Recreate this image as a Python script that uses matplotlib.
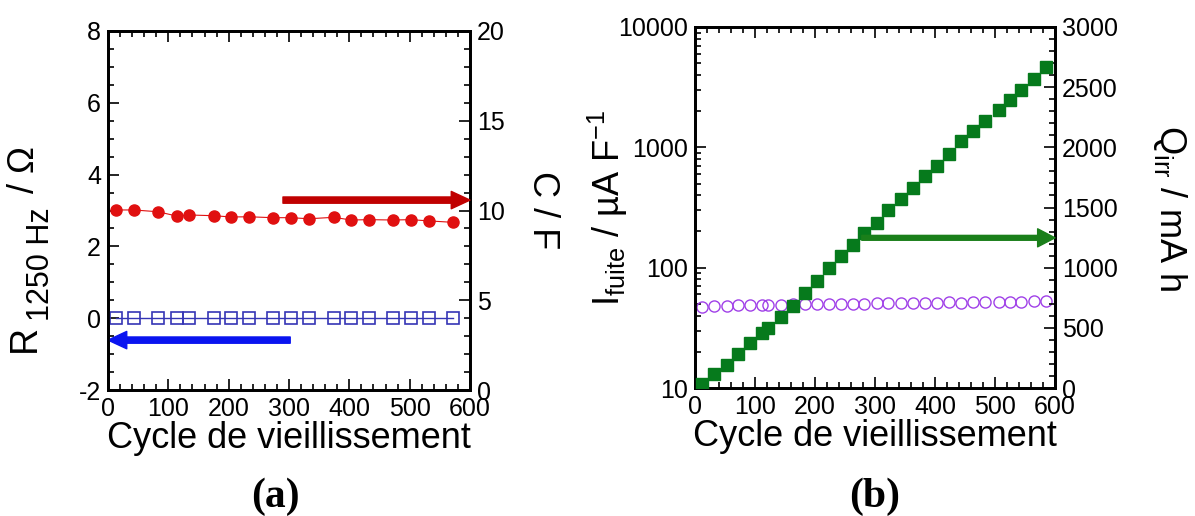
import matplotlib
matplotlib.use('Agg')
from matplotlib import pyplot as plt
from matplotlib import ticker

plt.rcParams['font.family'] = ['Liberation Sans', 'DejaVu Sans']
plt.rcParams['mathtext.fontset'] = 'custom'
plt.rcParams['mathtext.rm'] = 'Liberation Sans'
plt.rcParams['mathtext.it'] = 'Liberation Sans'
plt.rcParams['axes.unicode_minus'] = False

# (a) resistance et capacite
cycles_a = [13, 43, 83, 114, 135, 175, 204, 234, 273, 303, 333, 374, 403, 433, 472, 502, 532, 572]
r_1250 = [0.01] * 18
capa = [10.03, 10.03, 9.93, 9.69, 9.75, 9.71, 9.64, 9.65, 9.60, 9.60,
        9.54, 9.62, 9.47, 9.49, 9.47, 9.49, 9.42, 9.34]

# (b) courant de fuite et charge irreversible
cycles_b = [11, 32, 53, 72, 92, 111, 122, 143, 164, 183, 203, 223, 243, 263, 282,
            303, 322, 343, 363, 383, 403, 423, 443, 464, 483, 506, 525, 544, 565, 585]
i_fuite = [47.5, 48, 48, 48.5, 48.5, 48.5, 49, 49, 49.5, 49.5, 50, 50, 50, 50, 50,
           50.5, 50.5, 50.5, 51, 50.5, 51, 51.5, 51, 51.5, 51.5, 52, 52, 52, 52.5, 52.5]
q_irr = [33, 114, 191, 280, 372, 460, 497, 593, 685, 788, 890, 996, 1098, 1190, 1287,
         1375, 1481, 1572, 1666, 1758, 1849, 1944, 2049, 2138, 2221, 2307, 2396, 2479, 2568, 2668]

TICK = 18
LAB = 26
W, H = 1195, 516


def style_ax(ax, right=False):
    for s in ax.spines.values():
        s.set_linewidth(2.0)
    ax.tick_params(which='both', direction='in', labelsize=TICK, width=1.2, pad=5,
                   top=not right, bottom=not right)
    ax.tick_params(which='major', length=8)
    ax.tick_params(which='minor', length=4.5)


def px_text(x, y, s, size):
    # texte vertical place en pixels (origine en haut a gauche)
    fig.text(x / W, 1 - y / H, s, fontsize=size, rotation=90, ha='center', va='center')


fig = plt.figure(figsize=(11.95, 5.16), dpi=100)
ax1 = fig.add_axes([108 / W, 1 - 390 / H, 362 / W, 359 / H])
ax1b = ax1.twinx()

ax1.plot(cycles_a, r_1250, 's', mfc='none', mec='#3535b5', ms=8.5, mew=1.2,
         ls='-', color='#3535b5', lw=1.0, zorder=3)
ax1b.plot(cycles_a, capa, 'o', color='#e01010', ms=8, lw=0.8, ls='-', zorder=3)

ax1.set_xlim(0, 600)
ax1.set_ylim(-2, 8)
ax1b.set_ylim(0, 20)
ax1.xaxis.set_major_locator(ticker.MultipleLocator(100))
ax1.xaxis.set_minor_locator(ticker.MultipleLocator(20))
ax1.yaxis.set_major_locator(ticker.MultipleLocator(2))
ax1.yaxis.set_minor_locator(ticker.MultipleLocator(0.5))
ax1b.yaxis.set_major_locator(ticker.MultipleLocator(5))
ax1b.yaxis.set_minor_locator(ticker.MultipleLocator(1))
style_ax(ax1)
style_ax(ax1b, right=True)

ax1b.annotate('', xy=(600, 10.58), xytext=(290, 10.58),
              arrowprops=dict(arrowstyle='simple,head_length=1.35,head_width=1.25,tail_width=0.45',
                              color='#c00000', shrinkA=0, shrinkB=0, mutation_scale=10))
ax1.annotate('', xy=(0, -0.61), xytext=(302, -0.61),
             arrowprops=dict(arrowstyle='simple,head_length=1.35,head_width=1.25,tail_width=0.45',
                             color='#0a14f0', shrinkA=0, shrinkB=0, mutation_scale=10))

ax1.set_xlabel('Cycle de vieillissement', fontsize=LAB, labelpad=0)
# R_1250 Hz / Ohm : indice plus grand que le mathtext par defaut
px_text(25, 338, 'R', 27)
px_text(41, 264, '1250 Hz', 22)
px_text(25, 170, '/ Ω', 26)
ax1b.set_ylabel('C / F', fontsize=LAB, rotation=270, va='center')
ax1b.yaxis.set_label_coords(1.2, 0.5)

# (b)
ax2 = fig.add_axes([695 / W, 1 - 388 / H, 360 / W, 361 / H])
ax2b = ax2.twinx()

ax2.plot(cycles_b, i_fuite, 'o', mfc='none', mec='#a040e8', ms=8, mew=1.0, zorder=3)
ax2b.plot(cycles_b, q_irr, 's', color='#067a1c', ms=9, zorder=3)

ax2.set_yscale('log')
ax2.set_xlim(0, 600)
ax2.set_ylim(10, 10000)
ax2b.set_ylim(0, 3000)
ax2.xaxis.set_major_locator(ticker.MultipleLocator(100))
ax2.xaxis.set_minor_locator(ticker.MultipleLocator(20))
ax2.yaxis.set_major_formatter(ticker.FuncFormatter(lambda v, p: f'{v:g}'))
ax2b.yaxis.set_major_locator(ticker.MultipleLocator(500))
ax2b.yaxis.set_minor_locator(ticker.MultipleLocator(100))
style_ax(ax2)
style_ax(ax2b, right=True)

ax2b.annotate('', xy=(600, 1248), xytext=(278, 1248),
              arrowprops=dict(arrowstyle='simple,head_length=1.25,head_width=1.3,tail_width=0.35',
                              color='#1a7f1a', shrinkA=0, shrinkB=0, mutation_scale=10))

ax2.set_xlabel('Cycle de vieillissement', fontsize=LAB, labelpad=0)
ax2.set_ylabel(r'I$_{\mathrm{fuite}}$ / µA F$^{\mathrm{-1}}$', fontsize=LAB)
ax2.yaxis.set_label_coords(-0.18, 0.5)
ax2b.set_ylabel(r'Q$_{\mathrm{irr}}$ / mA h', fontsize=LAB, rotation=270, va='center')
ax2b.yaxis.set_label_coords(1.32, 0.5)

fig.text(275 / W, 1 - 497 / H, '(a)', fontsize=30, fontweight='bold',
         family='Liberation Serif', ha='center', va='center')
fig.text(875 / W, 1 - 497 / H, '(b)', fontsize=30, fontweight='bold',
         family='Liberation Serif', ha='center', va='center')

fig.savefig('out.png', dpi=100)
